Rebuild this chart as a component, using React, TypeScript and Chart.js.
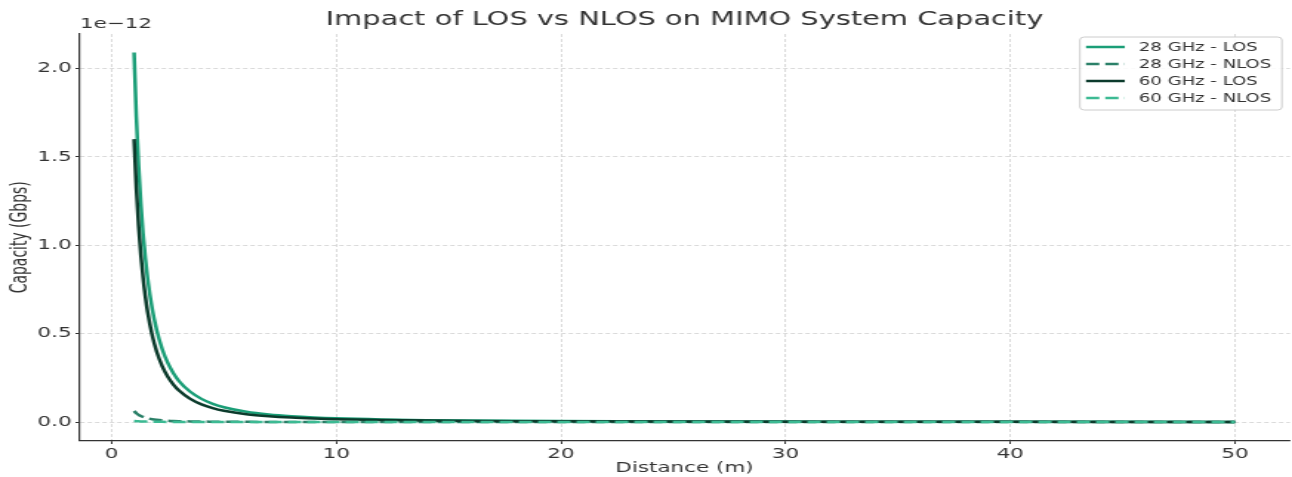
import React, { useEffect, useRef } from "react";
import { Chart, registerables } from "chart.js";

Chart.register(...registerables);

// ---- text ----
const TITLE = "Impact of LOS vs NLOS on MIMO System Capacity";
const X_LABEL = "Distance (m)";
const Y_LABEL = "Capacity (Gbps)";
const Y_OFFSET_LABEL = "1e\u221212";
const SERIES_LABELS = ["28 GHz - LOS", "28 GHz - NLOS", "60 GHz - LOS", "60 GHz - NLOS"];

// ---- data (capacity in units of 1e-12 Gbps) ----
const DISTANCE = [1, 1.1, 1.2, 1.3, 1.4, 1.5, 1.6, 1.8, 2, 2.25, 2.5, 2.75, 3, 3.5, 4, 4.5, 5, 6, 7, 8, 9, 10, 12, 14, 16, 18, 20, 25, 30, 35, 40, 45, 50];
const CAP_28_LOS = [2.09, 1.727, 1.451, 1.237, 1.066, 0.929, 0.816, 0.645, 0.523, 0.413, 0.334, 0.276, 0.232, 0.171, 0.131, 0.103, 0.0836, 0.0581, 0.0427, 0.0327, 0.0258, 0.0209, 0.0145, 0.0107, 0.0082, 0.0065, 0.0052, 0.0033, 0.0023, 0.0017, 0.0013, 0.001, 0.0008];
const CAP_28_NLOS = [0.062, 0.0498, 0.0408, 0.0339, 0.0286, 0.0244, 0.021, 0.016, 0.0126, 0.0096, 0.0075, 0.006, 0.005, 0.0035, 0.0026, 0.002, 0.0015, 0.001, 0.0007, 0.0005, 0.0004, 0.0003, 0.0002, 0.0001, 0.0001, 0.0001, 0.0001, 0, 0, 0, 0, 0, 0];
const CAP_60_LOS = [1.6, 1.322, 1.111, 0.947, 0.816, 0.711, 0.625, 0.494, 0.4, 0.316, 0.256, 0.212, 0.178, 0.131, 0.1, 0.079, 0.064, 0.0444, 0.0327, 0.025, 0.0198, 0.016, 0.0111, 0.0082, 0.0063, 0.0049, 0.004, 0.0026, 0.0018, 0.0013, 0.001, 0.0008, 0.0006];
const CAP_60_NLOS = [0.006, 0.0048, 0.0039, 0.0033, 0.0028, 0.0024, 0.002, 0.0016, 0.0012, 0.0009, 0.0007, 0.0006, 0.0005, 0.0003, 0.0003, 0.0002, 0.0001, 0.0001, 0, 0, 0, 0, 0, 0, 0, 0, 0, 0, 0, 0, 0, 0, 0];

const X_TICKS = [0, 10, 20, 30, 40, 50];
const Y_TICKS = [0, 0.5, 1.0, 1.5, 2.0];
const X_RANGE = [-1.45, 52.45];
const Y_RANGE = [-0.1045, 2.1945];

// ---- styles ----
const COLORS = ["#1b9e77", "#2b8068", "#0c3b2c", "#3cba93"];
const DASHES: number[][] = [[], [9, 4], [], [9, 4]];
const FONT = '"DejaVu Sans", "Noto Sans", sans-serif';
const TEXT_COLOR = "#333333";

const CANVAS_W = 873;
const CANVAS_H = 477;
const STRETCH_X = 1292 / CANVAS_W;

const overlayPlugin = {
  id: "overlay",
  afterDraw(chart: any) {
    const { ctx, chartArea } = chart;
    ctx.save();
    ctx.fillStyle = TEXT_COLOR;
    ctx.textBaseline = "middle";
    // title
    ctx.font = `19.5px ${FONT}`;
    ctx.textAlign = "center";
    ctx.fillText(TITLE, (chartArea.left + chartArea.right) / 2, 19.7);
    // offset text
    ctx.font = `14.5px ${FONT}`;
    ctx.textAlign = "left";
    ctx.fillText(Y_OFFSET_LABEL, chartArea.left + 0.5, 24.7);

    // legend
    const bx = 729.7, by = 37, bw = 136.5, bh = 73;
    ctx.beginPath();
    if ((ctx as any).roundRect) (ctx as any).roundRect(bx, by, bw, bh, 3);
    else ctx.rect(bx, by, bw, bh);
    ctx.fillStyle = "rgba(255,255,255,0.85)";
    ctx.fill();
    ctx.strokeStyle = "#cccccc";
    ctx.lineWidth = 1;
    ctx.stroke();
    const rows = [47, 64, 81, 98];
    ctx.font = `12.2px ${FONT}`;
    SERIES_LABELS.forEach((lab, i) => {
      ctx.beginPath();
      ctx.setLineDash(DASHES[i]);
      ctx.strokeStyle = COLORS[i];
      ctx.lineWidth = 2.5;
      ctx.moveTo(733.8, rows[i]);
      ctx.lineTo(760, rows[i]);
      ctx.stroke();
      ctx.setLineDash([]);
      ctx.fillStyle = TEXT_COLOR;
      ctx.textAlign = "left";
      ctx.textBaseline = "middle";
      ctx.fillText(lab, 769.6, rows[i] + 0.5);
    });
    ctx.restore();
  },
};

export default function App() {
  const ref = useRef<HTMLCanvasElement | null>(null);

  useEffect(() => {
    document.body.style.margin = "0";
    document.body.style.overflow = "hidden";
    const canvas = ref.current;
    if (!canvas) return;
    const series = [CAP_28_LOS, CAP_28_NLOS, CAP_60_LOS, CAP_60_NLOS];
    const datasets = series.map((vals, i) => ({
      label: SERIES_LABELS[i],
      data: DISTANCE.map((d, k) => ({ x: d, y: vals[k] })),
      borderColor: COLORS[i],
      backgroundColor: COLORS[i],
      borderWidth: 2.5,
      borderDash: DASHES[i],
      pointRadius: 0,
      fill: false,
      cubicInterpolationMode: "monotone" as const,
      borderJoinStyle: "round" as const,
      order: 4 - i,
    }));

    const gridOpts = (tickLength: number) => ({
      color: "#d0d0d0",
      lineWidth: 0.8,
      drawTicks: true,
      tickLength,
      tickColor: "#333333",
      tickWidth: 1,
      tickBorderDash: [],
    });
    const borderOpts = { display: true, color: "#333333", width: 1.2, dash: [3, 2] };

    const chart = new Chart(canvas, {
      type: "line",
      data: { datasets },
      plugins: [overlayPlugin],
      options: {
        animation: false,
        responsive: false,
        devicePixelRatio: 1,
        layout: { padding: { top: 34, right: 1.4, bottom: 0, left: 0 } },
        plugins: {
          legend: { display: false },
          title: { display: false },
          tooltip: { enabled: false },
        },
        scales: {
          x: {
            type: "linear",
            min: X_RANGE[0],
            max: X_RANGE[1],
            afterBuildTicks: (s: any) => {
              s.ticks = X_TICKS.map((v) => ({ value: v }));
            },
            afterFit: (s: any) => {
              s.height = 36.5;
            },
            grid: gridOpts(3.5),
            border: borderOpts,
            ticks: {
              color: TEXT_COLOR,
              font: { family: FONT, size: 14.5 },
              padding: 2,
              maxRotation: 0,
              callback: (v: any) => String(v),
            },
            title: {
              display: true,
              text: X_LABEL,
              color: TEXT_COLOR,
              font: { family: FONT, size: 14.5 },
              padding: { top: 0, bottom: 0.3 },
            },
          },
          y: {
            type: "linear",
            min: Y_RANGE[0],
            max: Y_RANGE[1],
            afterBuildTicks: (s: any) => {
              s.ticks = Y_TICKS.map((v) => ({ value: v }));
            },
            afterFit: (s: any) => {
              s.width = 53.4;
            },
            grid: gridOpts(2.4),
            border: borderOpts,
            ticks: {
              color: TEXT_COLOR,
              font: { family: FONT, size: 14.5 },
              padding: 2.6,
              callback: (v: any) => Number(v).toFixed(1),
            },
            title: {
              display: true,
              text: Y_LABEL,
              color: TEXT_COLOR,
              font: { family: '"DejaVu Sans Condensed", "Liberation Sans Narrow", ' + FONT, size: 15.5 },
              padding: { top: 4.2, bottom: 0 },
            },
          },
        },
      },
    });
    return () => chart.destroy();
  }, []);

  return (
    <div
      style={{
        position: "absolute",
        left: 0,
        top: 0,
        width: CANVAS_W,
        height: CANVAS_H,
        transform: `scaleX(${STRETCH_X})`,
        transformOrigin: "0 0",
      }}
    >
      <canvas ref={ref} width={CANVAS_W} height={CANVAS_H} style={{ display: "block" }} />
    </div>
  );
}
